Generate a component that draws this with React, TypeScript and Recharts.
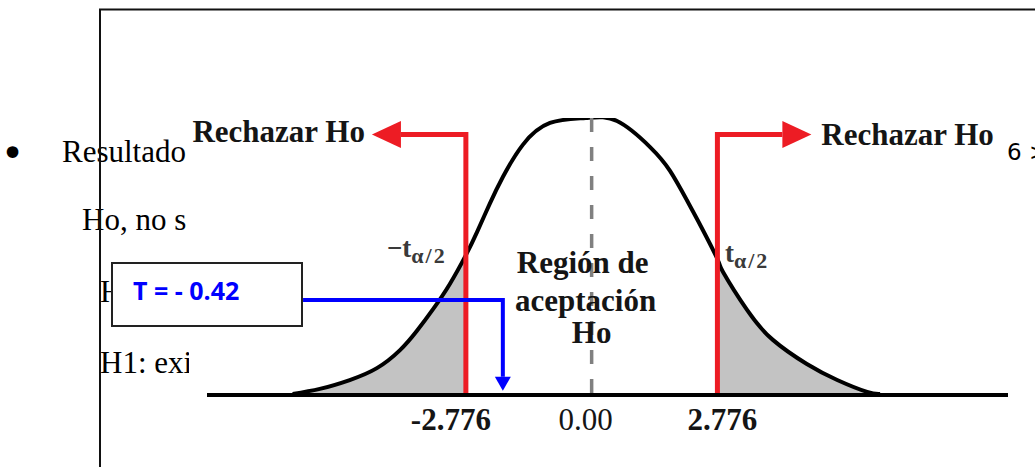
import { ComposedChart, Line, Area, XAxis, YAxis, ReferenceLine } from 'recharts';

// curve: position on the t axis and height (peak = 1)
const curveT = [-6.6, -6.0, -5.34, -4.74, -4.23, -3.86, -3.5, -3.13, -2.776, -2.53, -2.25, -1.96, -1.52, -0.92, -0.13, 0.56, 1.29, 1.73, 2.1, 2.35, 2.776, 2.9, 3.43, 4.0, 4.75, 5.42, 6.08, 6.37];
const curveH = [0.004, 0.022, 0.054, 0.097, 0.162, 0.231, 0.31, 0.401, 0.505, 0.588, 0.69, 0.787, 0.903, 0.982, 1.0, 0.989, 0.895, 0.809, 0.704, 0.628, 0.491, 0.444, 0.307, 0.199, 0.112, 0.054, 0.011, 0.004];

const tCritical = 2.776;
const axisTicks = [-2.776, 0, 2.776];
const axisTickLabels = ['-2.776', '0.00', '2.776'];
const xRange = [-8.49, 9.19];

const rejectLabel = 'Rechazar Ho';
const acceptLabel = ['Región de', 'aceptación', 'Ho'];
const tStatLabel = 'T = - 0.42';
const rejectArrowTip = 4.85;
const rejectArrowLevel = 0.94;
const tStatFrom = { t: -6.37, h: 0.343 };
const tStatTo = { t: -1.96, h: 0.015 };

const docLines = ['Resultado', 'Ho, no s', 'Ho:', 'H1: exi'];
const docRight = '6 >';

const data = curveT.map((t, i) => ({
  t,
  h: curveH[i],
  left: t <= -tCritical ? curveH[i] : null,
  right: t >= tCritical ? curveH[i] : null,
}));

const RED = '#ed1c24';
const BLUE = '#0000ff';
const INK = '#151515';
const SERIF = '"Liberation Serif", "Times New Roman", serif';

const tickDx = [-15, -6, 5];

function AxisTick(p: any) {
  const { x, y, index } = p;
  return (
    <text
      x={x + tickDx[index]}
      y={y + 35}
      textAnchor="middle"
      fontFamily={SERIF}
      fontSize={31}
      fontWeight={index === 1 ? 400 : 700}
      fill={INK}
    >
      {axisTickLabels[index]}
    </text>
  );
}

function RejectArrow(p: any, side: 'left' | 'right') {
  const { x1, y1, x2, y2 } = p;
  const dir = side === 'left' ? -1 : 1;
  const head = 29;
  const isLeft = side === 'left';
  return (
    <g>
      <path d={`M${x1},${y1} V${y2} H${x2 - dir * head}`} fill="none" stroke={RED} strokeWidth={5} />
      <polygon points={`${x2},${y2} ${x2 - dir * head},${y2 - 13.5} ${x2 - dir * head},${y2 + 13.5}`} fill={RED} />
      <text
        x={isLeft ? x2 - 7 : x2 + 10}
        y={isLeft ? y2 + 7.5 : y2 + 10.5}
        textAnchor={isLeft ? 'end' : 'start'}
        fontFamily={SERIF}
        fontWeight={700}
        fontSize={31}
        fill={INK}
      >
        {rejectLabel}
      </text>
      <text
        x={isLeft ? x1 - 79 : x1 + 7.5}
        y={isLeft ? y1 - 138 : y1 - 133}
        fontFamily={SERIF}
        fontWeight={700}
        fontSize={27}
        fill="#3a3a3a"
      >
        {isLeft ? '−t' : 't'}
        <tspan fontSize={22} dy={6} letterSpacing={2}>α/2</tspan>
      </text>
    </g>
  );
}

function AcceptZone(p: any) {
  const { x1, y1, y2 } = p;
  const dx = [-9, -6, 0];
  const dy = [-122, -84, -52];
  return (
    <g>
      <path d={`M${x1},${y2} V${y1}`} stroke="#808080" strokeWidth={3.5} strokeDasharray="14 15" />
      {acceptLabel.map((s, i) => (
        <text
          key={s}
          x={x1 + dx[i]}
          y={y1 + dy[i]}
          textAnchor="middle"
          fontFamily={SERIF}
          fontWeight={700}
          fontSize={31}
          fill={INK}
        >
          {s}
        </text>
      ))}
    </g>
  );
}

function TStatArrow(p: any) {
  const { x1, y1, x2, y2 } = p;
  const head = 14;
  return (
    <g>
      <path d={`M${x1},${y1} H${x2} V${y2 - head}`} fill="none" stroke={BLUE} strokeWidth={4} />
      <polygon points={`${x2 - 8},${y2 - head} ${x2 + 8},${y2 - head} ${x2},${y2}`} fill={BLUE} />
    </g>
  );
}

export default function App() {
  return (
    <div style={{ position: 'absolute', left: 0, top: 0, width: 1035, height: 467, overflow: 'hidden', background: '#fff' }}>
      {/* document behind the pasted figure */}
      <svg width={1035} height={467} style={{ position: 'absolute', left: 0, top: 0 }}>
        <text x={12.5} y={167} textAnchor="middle" fontFamily='"DejaVu Sans", sans-serif' fontSize={40} fill="#000">•</text>
        <g fontFamily={SERIF} fontSize={31} fill="#000">
          <text x={62} y={162}>{docLines[0]}</text>
          <text x={82} y={230}>{docLines[1]}</text>
          <text x={100} y={302}>{docLines[2]}</text>
          <text x={100} y={373}>{docLines[3]}</text>
        </g>
        <rect x={189} y={100} width={817} height={367} fill="#fff" />
        <path d="M100,480 V9.5 H1040" fill="none" stroke="#111" strokeWidth={2} />
      </svg>

      <div style={{ position: 'absolute', left: 0, top: 0 }}>
        <ComposedChart width={1035} height={467} data={data} margin={{ top: 118, right: 27, bottom: 42, left: 207 }}>
          <XAxis
            dataKey="t"
            type="number"
            domain={xRange}
            allowDataOverflow
            ticks={axisTicks}
            interval={0}
            height={30}
            tickLine={false}
            tickSize={0}
            tickMargin={0}
            axisLine={{ stroke: '#000', strokeWidth: 4 }}
            tick={(p: any) => <AxisTick {...p} />}
          />
          <YAxis hide type="number" domain={[0, 1]} allowDataOverflow />
          <Area dataKey="left" type="natural" stroke="none" fill="#c3c3c3" fillOpacity={1} isAnimationActive={false} />
          <Area dataKey="right" type="natural" stroke="none" fill="#c3c3c3" fillOpacity={1} isAnimationActive={false} />
          <Line dataKey="h" type="natural" stroke="#000" strokeWidth={4} dot={false} isAnimationActive={false} />
          <ReferenceLine segment={[{ x: 0, y: 0 }, { x: 0, y: 1 }]} shape={(p: any) => <AcceptZone {...p} />} />
          <ReferenceLine
            segment={[{ x: -tCritical, y: 0 }, { x: -rejectArrowTip, y: rejectArrowLevel }]}
            shape={(p: any) => RejectArrow(p, 'left')}
          />
          <ReferenceLine
            segment={[{ x: tCritical, y: 0 }, { x: rejectArrowTip, y: rejectArrowLevel }]}
            shape={(p: any) => RejectArrow(p, 'right')}
          />
          <ReferenceLine
            segment={[{ x: tStatFrom.t, y: tStatFrom.h }, { x: tStatTo.t, y: tStatTo.h }]}
            shape={(p: any) => <TStatArrow {...p} />}
          />
        </ComposedChart>
      </div>

      <svg width={1035} height={467} style={{ position: 'absolute', left: 0, top: 0, pointerEvents: 'none' }}>
        <text x={1007} y={160} fontFamily='"DejaVu Sans", sans-serif' fontSize={23} fill="#000">{docRight}</text>
        <rect x={112} y={263} width={190} height={63} fill="#fff" stroke="#222" strokeWidth={2} />
        <text x={133} y={300} fontFamily='"Open Sans", sans-serif' fontWeight={700} fontSize={25} fill={BLUE}>{tStatLabel}</text>
      </svg>
    </div>
  );
}
